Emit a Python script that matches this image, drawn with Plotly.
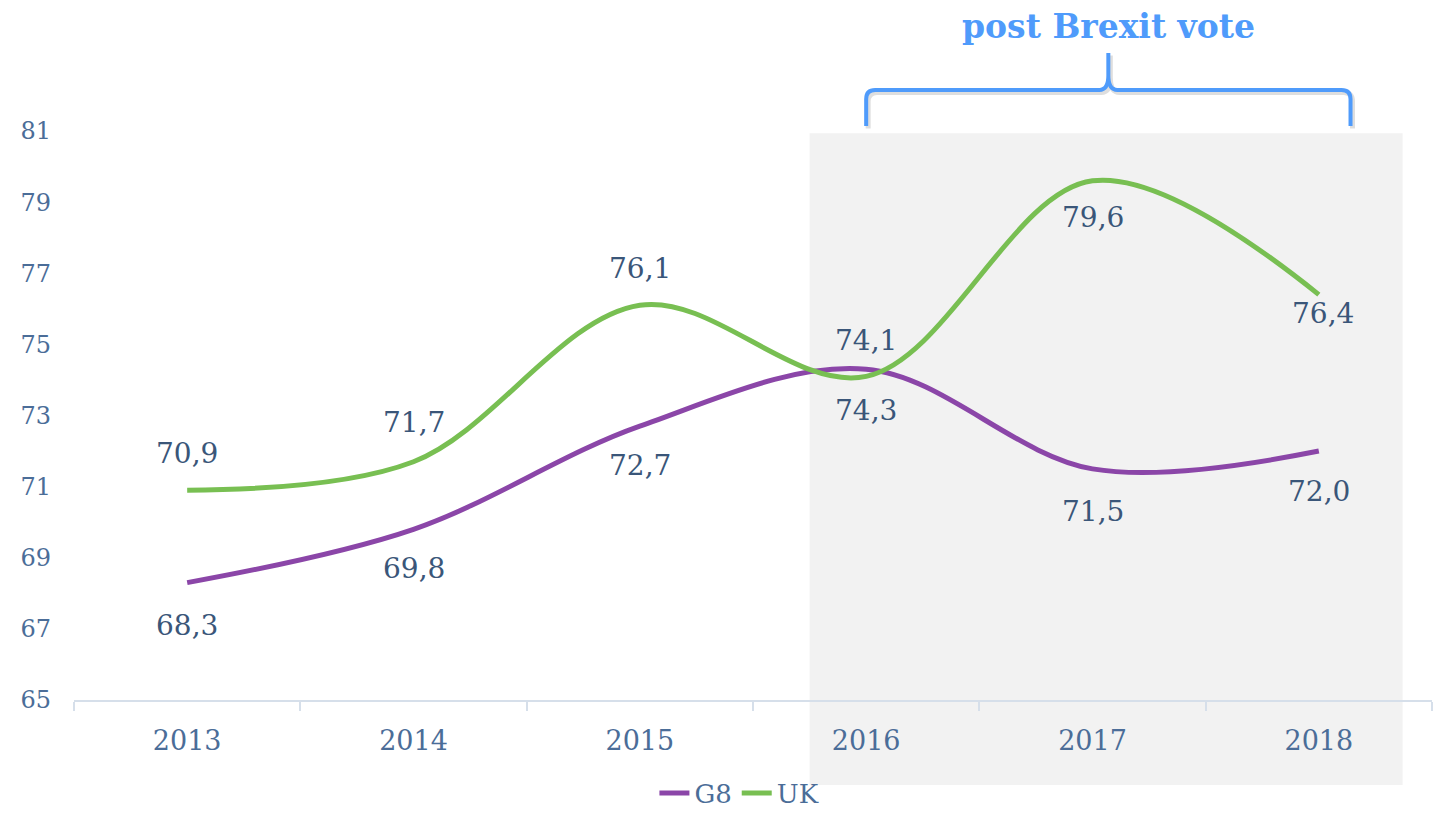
import plotly.graph_objects as go

# ---- data -------------------------------------------------------------
years = ["2013", "2014", "2015", "2016", "2017", "2018"]
g8_values = [68.3, 69.8, 72.7, 74.3, 71.5, 72.0]
uk_values = [70.9, 71.7, 76.1, 74.1, 79.6, 76.4]
y_tick_values = [65, 67, 69, 71, 73, 75, 77, 79, 81]
period_title = "post Brexit vote"

# ---- styling ----------------------------------------------------------
FONT = "DejaVu Serif"
PURPLE = "#8B46A8"
GREEN = "#78BF52"
LABEL_COLOR = "#3A5679"
TICK_COLOR = "#4B6D98"
AXIS_COLOR = "#D6DFEA"
BRACE_COLOR = "#4F9BFB"
SHADE_COLOR = "#F2F2F2"

# vertical pixel offset of each value label from its point
g8_label_shift = [-43, -39, -39, -41, -43, -40]
uk_label_shift = [37, 39, 37, 36, -37, -19]

Y_RANGE = [65, 81]
PLOT_H = 569.0   # plot height in pixels
CAT_W = 226.3    # width of one category in pixels


def fmt(v):
    return f"{v:.1f}".replace(".", ",")


def ypaper(v):
    return (v - Y_RANGE[0]) / (Y_RANGE[1] - Y_RANGE[0])


fig = go.Figure()
fig.add_trace(go.Scatter(
    x=years, y=g8_values, name="G8", mode="lines",
    line=dict(color=PURPLE, width=5, shape="spline", smoothing=1.0),
    hoverinfo="skip",
))
fig.add_trace(go.Scatter(
    x=years, y=uk_values, name="UK", mode="lines",
    line=dict(color=GREEN, width=5, shape="spline", smoothing=1.0),
    hoverinfo="skip",
))

label_font = dict(family=FONT, size=28, color=LABEL_COLOR)
annotations = []
for i, (v, s) in enumerate(zip(g8_values, g8_label_shift)):
    annotations.append(dict(x=i, xref="x", y=v, yref="y", text=fmt(v),
                            showarrow=False, yshift=s, font=label_font))
for i, (v, s) in enumerate(zip(uk_values, uk_label_shift)):
    annotations.append(dict(x=i, xref="x", y=v, yref="y", text=fmt(v),
                            showarrow=False, yshift=s,
                            xshift=4 if i == len(years) - 1 else 0,
                            font=label_font))

# shaded period (x in category index units, y in paper units)
shade_x0, shade_x1 = 2.75, 5.37
shapes = [dict(type="rect", xref="x", yref="paper", layer="below",
               x0=shade_x0, x1=shade_x1, y0=-85 / PLOT_H, y1=ypaper(80.94),
               fillcolor=SHADE_COLOR, line=dict(width=0))]

# curly brace above the shaded period
bx0, bx1, bmid = 3.0, 5.14, 4.07
yb = 1 + 5 / PLOT_H       # brace feet
yh = 1 + 41 / PLOT_H      # horizontal bar
yt = 1 + 78 / PLOT_H      # tip
rx = 9 / CAT_W
ry = 9 / PLOT_H


def brace_path(dx=0.0, dy=0.0):
    p = lambda x, y: f"{x + dx:.4f},{y + dy:.4f}"
    return (
        f"M {p(bx0, yb)} L {p(bx0, yh - ry)} Q {p(bx0, yh)} {p(bx0 + rx, yh)} "
        f"L {p(bmid - rx, yh)} Q {p(bmid, yh)} {p(bmid, yh + ry * 1.6)} "
        f"L {p(bmid, yt)} L {p(bmid, yh + ry * 1.6)} "
        f"Q {p(bmid, yh)} {p(bmid + rx, yh)} "
        f"L {p(bx1 - rx, yh)} Q {p(bx1, yh)} {p(bx1, yh - ry)} L {p(bx1, yb)}"
    )


shapes.append(dict(type="path", xref="x", yref="paper",
                   path=brace_path(2 / CAT_W, -2.5 / PLOT_H),
                   line=dict(color="rgba(0,0,0,0.13)", width=5)))
shapes.append(dict(type="path", xref="x", yref="paper", path=brace_path(),
                   line=dict(color=BRACE_COLOR, width=4)))

annotations.append(dict(x=bmid, xref="x", y=1 + 104 / PLOT_H, yref="paper",
                        text=f"<b>{period_title}</b>", showarrow=False,
                        yanchor="middle",
                        font=dict(family=FONT, size=33, color=BRACE_COLOR)))

fig.update_layout(
    width=1435, height=815,
    margin=dict(l=74, r=3, t=131, b=115, autoexpand=False),
    paper_bgcolor="white", plot_bgcolor="rgba(0,0,0,0)",
    font=dict(family=FONT, color=TICK_COLOR),
    showlegend=True,
    legend=dict(orientation="h", x=0.49, xanchor="center", y=-93 / PLOT_H,
                yanchor="middle", font=dict(family=FONT, size=26, color=TICK_COLOR),
                bgcolor="rgba(0,0,0,0)", itemwidth=30),
    shapes=shapes,
    annotations=annotations,
    xaxis=dict(type="category", categoryorder="array", categoryarray=years,
               range=[-0.5, 5.5], tickson="boundaries", ticks="outside",
               ticklen=9, tickwidth=2, tickcolor=AXIS_COLOR,
               showline=True, linecolor=AXIS_COLOR, linewidth=2,
               showgrid=False, zeroline=False,
               tickfont=dict(family=FONT, size=27, color=TICK_COLOR),
               ticklabelstandoff=16),
    yaxis=dict(range=Y_RANGE, tickvals=y_tick_values, showgrid=False,
               zeroline=False, showline=False, ticks="",
               tickfont=dict(family=FONT, size=24, color=TICK_COLOR),
               ticklabelstandoff=22),
)

fig.write_html("out.html")
